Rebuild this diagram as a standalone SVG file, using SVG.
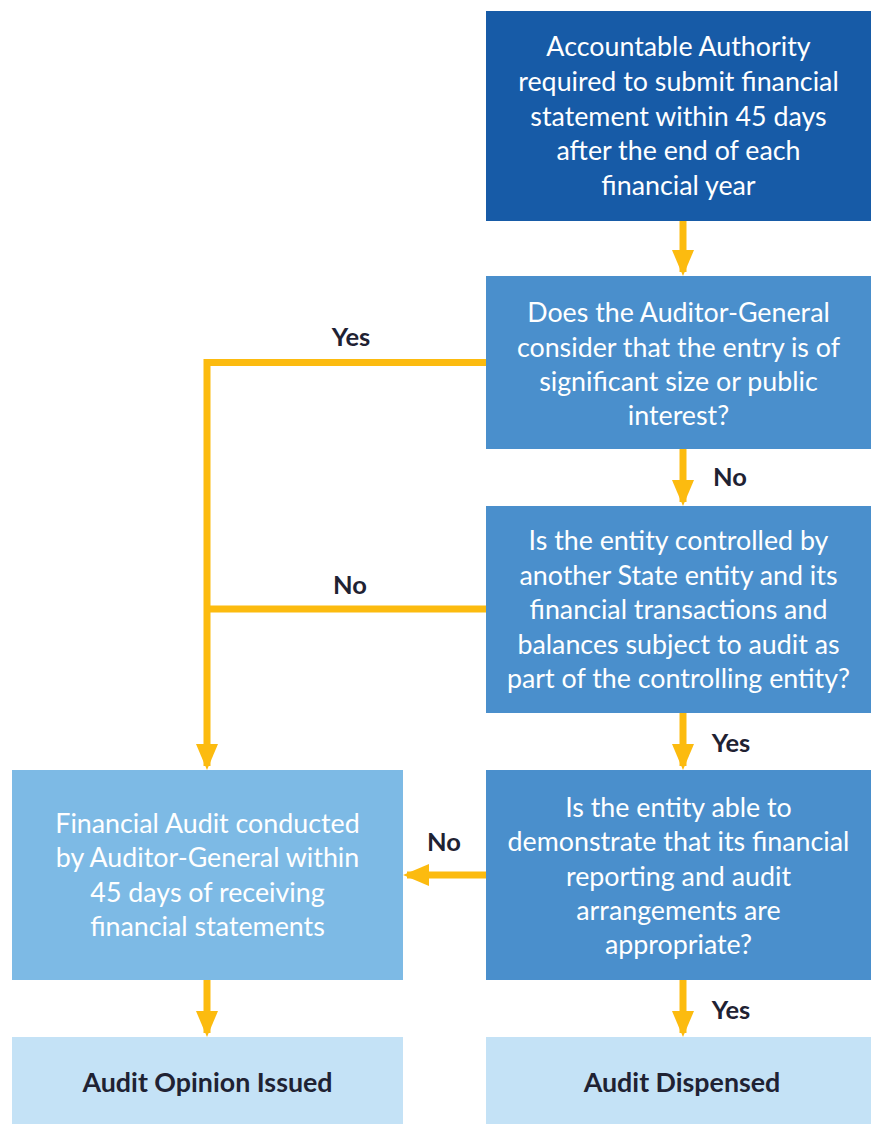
<svg xmlns="http://www.w3.org/2000/svg" width="871" height="1124" viewBox="0 0 871 1124">
  <defs>
    <style>
      .box-dark { fill: #175ba7; }
      .box-mid { fill: #4a8fcc; }
      .box-light { fill: #7dbae5; }
      .box-pale { fill: #c4e2f6; }
      .t { font-family: Lato, "Open Sans", "Liberation Sans", sans-serif; font-size: 26.8px; fill: #ffffff; text-anchor: middle; }
      .t-end { font-family: Lato, "Open Sans", "Liberation Sans", sans-serif; font-size: 26.8px; font-weight: bold; fill: #1f2233; text-anchor: middle; }
      .lbl { font-family: Lato, "Open Sans", "Liberation Sans", sans-serif; font-size: 25.5px; font-weight: bold; fill: #1f2233; text-anchor: middle; }
      .flow { fill: none; stroke: #fcbb0f; stroke-width: 7; stroke-linejoin: miter; }
    </style>
    <marker id="head" viewBox="0 0 26 22" refX="22" refY="11" markerWidth="26" markerHeight="22" markerUnits="userSpaceOnUse" orient="auto">
      <polygon points="0,0 26,11 0,22" fill="#fcbb0f"/>
    </marker>
  </defs>

  <!-- connectors -->
  <g id="connectors">
    <line class="flow" x1="683" y1="221" x2="683" y2="272" marker-end="url(#head)"/>
    <line class="flow" x1="683" y1="449" x2="683" y2="502" marker-end="url(#head)"/>
    <line class="flow" x1="683" y1="713" x2="683" y2="766" marker-end="url(#head)"/>
    <line class="flow" x1="683" y1="980" x2="683" y2="1033" marker-end="url(#head)"/>
    <line class="flow" x1="207" y1="980" x2="207" y2="1033" marker-end="url(#head)"/>
    <polyline class="flow" points="487,362.5 207,362.5 207,766" marker-end="url(#head)"/>
    <polyline class="flow" points="487,609 207,609"/>
    <line class="flow" x1="487" y1="875" x2="407" y2="875" marker-end="url(#head)"/>
    <text class="lbl" x="351" y="346">Yes</text>
    <text class="lbl" x="350" y="594">No</text>
    <text class="lbl" x="730" y="486">No</text>
    <text class="lbl" x="731" y="752">Yes</text>
    <text class="lbl" x="444" y="851">No</text>
    <text class="lbl" x="731" y="1019">Yes</text>
  </g>

  <g id="submit">
    <rect class="box-dark" x="486" y="11" width="385" height="210"/>
    <text class="t" x="678.5" y="56">Accountable Authority</text>
    <text class="t" x="678.5" y="91">required to submit financial</text>
    <text class="t" x="678.5" y="126">statement within 45 days</text>
    <text class="t" x="678.5" y="160">after the end of each</text>
    <text class="t" x="678.5" y="195">financial year</text>
  </g>

  <g id="significance">
    <rect class="box-mid" x="486" y="276" width="385" height="173"/>
    <text class="t" x="678.5" y="322">Does the Auditor-General</text>
    <text class="t" x="678.5" y="357">consider that the entry is of</text>
    <text class="t" x="678.5" y="391">significant size or public</text>
    <text class="t" x="678.5" y="425">interest?</text>
  </g>

  <g id="controlled">
    <rect class="box-mid" x="486" y="506" width="385" height="207"/>
    <text class="t" x="678.5" y="550">Is the entity controlled by</text>
    <text class="t" x="678.5" y="585">another State entity and its</text>
    <text class="t" x="678.5" y="619">financial transactions and</text>
    <text class="t" x="678.5" y="654">balances subject to audit as</text>
    <text class="t" x="678.5" y="688">part of the controlling entity?</text>
  </g>

  <g id="arrangements">
    <rect class="box-mid" x="486" y="770" width="385" height="210"/>
    <text class="t" x="678.5" y="817">Is the entity able to</text>
    <text class="t" x="678.5" y="851">demonstrate that its financial</text>
    <text class="t" x="678.5" y="886">reporting and audit</text>
    <text class="t" x="678.5" y="920">arrangements are</text>
    <text class="t" x="678.5" y="954">appropriate?</text>
  </g>

  <g id="financial-audit">
    <rect class="box-light" x="12" y="770" width="391" height="210"/>
    <text class="t" x="207.5" y="833">Financial Audit conducted</text>
    <text class="t" x="207.5" y="867">by Auditor-General within</text>
    <text class="t" x="207.5" y="902">45 days of receiving</text>
    <text class="t" x="207.5" y="936">financial statements</text>
  </g>

  <g id="opinion">
    <rect class="box-pale" x="12" y="1037" width="391" height="87"/>
    <text class="t-end" x="207.5" y="1092">Audit Opinion Issued</text>
  </g>

  <g id="dispensed">
    <rect class="box-pale" x="486" y="1037" width="385" height="87"/>
    <text class="t-end" x="682" y="1092">Audit Dispensed</text>
  </g>
</svg>
